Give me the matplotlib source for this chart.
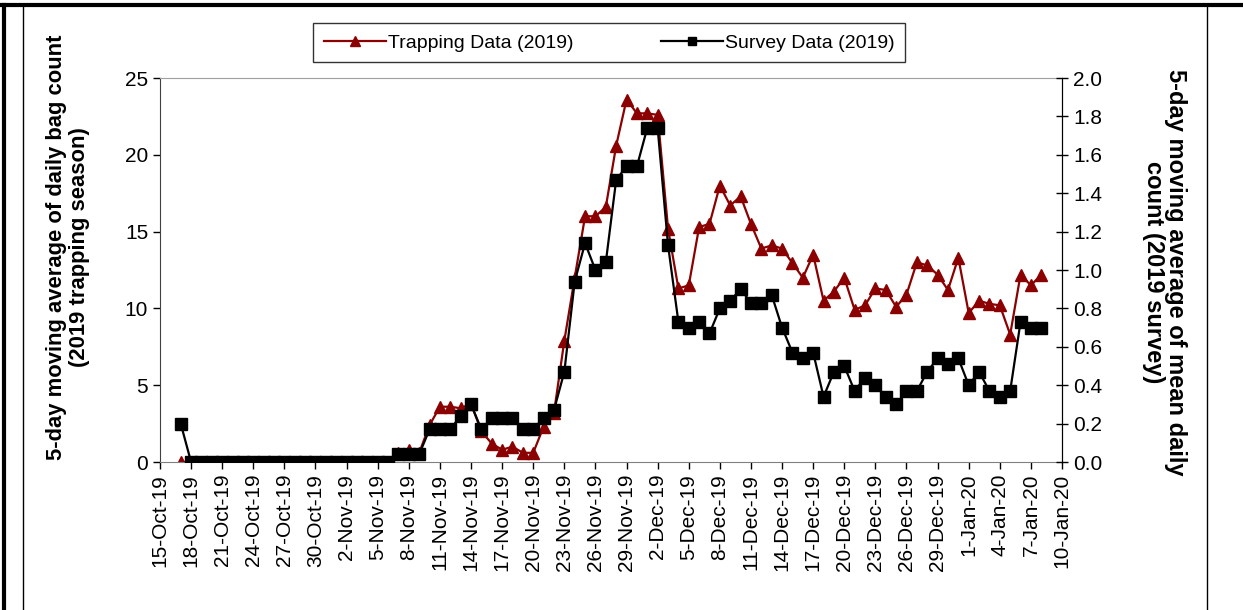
import matplotlib
matplotlib.use('Agg')
import matplotlib.pyplot as plt
from matplotlib.lines import Line2D
import pandas as pd

plt.rcParams['font.family'] = ['Liberation Sans', 'DejaVu Sans']

# 5-day moving averages, one value per day from 17-Oct-19 to 8-Jan-20
start_day = '2019-10-17'
trapping = [0] * 21 + [
    0.6, 0.8, 0.6, 2.4, 3.6, 3.6, 3.5, 3.8, 2.0,
    1.2, 0.8, 1.0, 0.6, 0.6, 2.3, 3.2, 7.9, 12.0,
    16.0, 16.0, 16.6, 20.6, 23.6, 22.7, 22.7, 22.6,
    15.2, 11.3, 11.5, 15.3, 15.5, 18.0, 16.7, 17.3, 15.5, 13.9,
    14.1, 13.9, 12.95, 12.0, 13.5, 10.5, 11.1, 12.0, 9.9, 10.2,
    11.3, 11.2, 10.1, 10.9, 13.0, 12.8, 12.2, 11.2, 13.3, 9.7,
    10.5, 10.3, 10.2, 8.3, 12.2, 11.5, 12.2]
survey = [0.2] + [0] * 20 + [
    0.04, 0.04, 0.04, 0.17, 0.17, 0.17, 0.24, 0.30, 0.17,
    0.23, 0.23, 0.23, 0.17, 0.17, 0.23, 0.27, 0.47, 0.94,
    1.14, 1.0, 1.04, 1.47, 1.54, 1.54, 1.74, 1.74,
    1.13, 0.73, 0.70, 0.73, 0.67, 0.80, 0.84, 0.90, 0.83, 0.83,
    0.87, 0.70, 0.57, 0.54, 0.57, 0.34, 0.47, 0.50, 0.37, 0.44,
    0.40, 0.34, 0.30, 0.37, 0.37, 0.47, 0.54, 0.51, 0.54, 0.40,
    0.47, 0.37, 0.34, 0.37, 0.73, 0.70, 0.70]

dates = pd.date_range(start_day, periods=len(trapping))
tick_dates = pd.date_range('2019-10-15', '2020-01-10', freq='3D')
tick_labels = [f"{d.day}-{d.strftime('%b-%y')}" for d in tick_dates]

red = '#8B0000'

fig = plt.figure(figsize=(12.43, 6.10), dpi=100)
ax = fig.add_axes([0.1287, 0.2426, 0.7257, 0.6295])
ax2 = ax.twinx()

ax.plot(dates, trapping, color=red, marker='^', markersize=8.5, linewidth=1.6)
ax2.plot(dates, survey, color='black', marker='s', markersize=8.3, linewidth=1.6)

ax.set_xlim(tick_dates[0], tick_dates[-1])
ax.set_ylim(0, 25)
ax2.set_ylim(0, 2.0)
ax.set_yticks(range(0, 26, 5))
ax2.set_yticks([i / 5 for i in range(11)])
ax2.set_yticklabels([f'{i / 5:.1f}' for i in range(11)])
ax.set_xticks(tick_dates)
ax.set_xticklabels(tick_labels, rotation=90)

ax.tick_params(axis='both', labelsize=15, direction='out', length=5, width=1)
ax2.tick_params(axis='y', labelsize=15, direction='inout', length=9, width=1)

ax.spines['left'].set_color('#404040')
ax.spines['bottom'].set_color('#808080')
ax.spines['top'].set_color('#A0A0A0')
ax2.spines['top'].set_visible(False)
ax2.spines['left'].set_visible(False)
ax2.spines['bottom'].set_visible(False)
ax2.spines['right'].set_color('black')

fig.text(0.0547, 0.595, '5-day moving average of daily bag count\n(2019 trapping season)',
         rotation=90, ha='center', va='center', fontsize=15.8, fontweight='bold',
         multialignment='center', linespacing=1.1)
fig.text(0.937, 0.554, '5-day moving average of mean daily\ncount (2019 survey)',
         rotation=-90, ha='center', va='center', fontsize=17, fontweight='bold',
         multialignment='center', linespacing=0.95)

handles = [Line2D([], [], color=red, marker='^', markersize=7, linewidth=1.6),
           Line2D([], [], color='black', marker='s', markersize=6, linewidth=1.6)]
leg = fig.legend(handles, ['Trapping Data (2019)', 'Survey Data (2019)'],
                 loc='center', mode='expand', ncol=2, fontsize=14,
                 bbox_to_anchor=(0.2518, 0.897, 0.4763, 0.066),
                 frameon=True, fancybox=False, edgecolor='black', handlelength=3.2,
                 borderpad=0.55, borderaxespad=0, handletextpad=0.1)
leg.get_frame().set_linewidth(1)

# page borders around the figure
fig.add_artist(Line2D([0, 1], [0.992, 0.992], color='black', linewidth=3))
fig.add_artist(Line2D([0.003, 0.003], [0, 0.992], color='black', linewidth=3))
fig.add_artist(Line2D([0.0183, 0.0183], [0, 0.992], color='black', linewidth=1))
fig.add_artist(Line2D([0.971, 0.971], [0, 0.992], color='black', linewidth=1))

fig.savefig('out.png', dpi=100)
